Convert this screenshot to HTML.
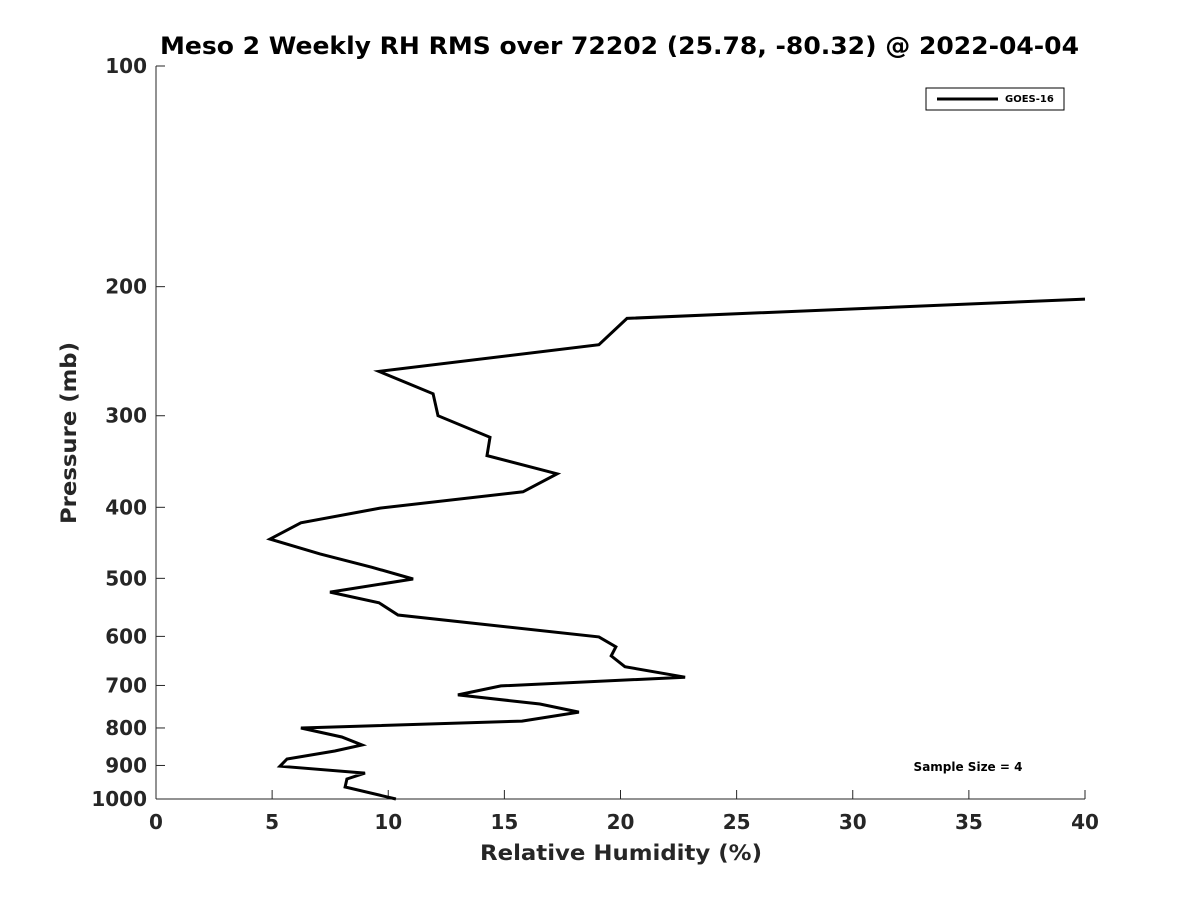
<!DOCTYPE html>
<html><head><meta charset="utf-8"><style>
html,body{margin:0;padding:0;background:#fff;}
svg text{font-family:"DejaVu Sans","Liberation Sans",sans-serif;font-weight:bold;fill:#262626;}
</style></head><body>
<svg id="chart" width="1200" height="900" viewBox="0 0 1200 900">
<rect width="1200" height="900" fill="#fff"/>
<text x="160" y="54" font-size="24" textLength="919" lengthAdjust="spacingAndGlyphs" style="fill:#000">Meso 2 Weekly RH RMS over 72202 (25.78, -80.32) @ 2022-04-04</text>
<g id="axes"></g>
<path id="series" fill="none" stroke="#000" stroke-width="3" stroke-linejoin="miter"/>
<text x="480" y="860" font-size="21" textLength="282" lengthAdjust="spacingAndGlyphs">Relative Humidity (%)</text>
<text transform="translate(76,524) rotate(-90)" font-size="21" textLength="182" lengthAdjust="spacingAndGlyphs">Pressure (mb)</text>
<g>
<rect x="926" y="88" width="138" height="22" fill="#fff" stroke="#000" stroke-width="1"/>
<line x1="937" y1="99" x2="998" y2="99" stroke="#000" stroke-width="3"/>
<text x="1005" y="102" font-size="10" style="fill:#000">GOES-16</text>
</g>
<text x="968" y="771" text-anchor="middle" font-size="12" style="fill:#000">Sample Size = 4</text>
</svg>
<script>
const rhValues=[40,20.28,19.07,9.6,11.93,12.14,14.38,14.25,17.27,15.8,9.65,6.24,4.91,7.06,9.3,11.07,7.49,9.6,10.42,19.07,19.8,19.6,20.19,22.78,14.85,13.0,16.53,18.21,15.76,6.24,8.0,8.87,7.7,5.64,5.34,9.0,8.22,8.14,10.33];
const pressureLevels=[208,221,240,261,280,300,321,340,360,381,401,420,442,463,483,501,522,540,561,601,620,638,660,682,701,721,742,761,783,800,823,844,860,882,902,922,939,963,1000];
const xTicks=[0,5,10,15,20,25,30,35,40];
const yTicks=[100,200,300,400,500,600,700,800,900,1000];
const X0=156,X1=1085,Y0=66,Y1=799;
const xs=v=>X0+(v-0)/(40-0)*(X1-X0);
const ys=p=>Y0+(Math.log10(p)-2)/(3-2)*(Y1-Y0);
const NS="http://www.w3.org/2000/svg";
const ax=document.getElementById('axes');
function mk(t,a){const e=document.createElementNS(NS,t);for(const k in a)e.setAttribute(k,a[k]);return e;}
const yl=mk('line',{x1:X0,y1:Y0,x2:X0,y2:Y1,stroke:'#262626','stroke-width':1});


ax.appendChild(yl);
const xl=mk('line',{x1:X0,y1:Y1,x2:X1,y2:Y1,stroke:'#262626','stroke-width':1});


ax.appendChild(xl);
xTicks.forEach(v=>{
 const x=xs(v);
 ax.appendChild(mk('line',{x1:x,y1:Y1,x2:x,y2:Y1-9,stroke:'#262626','stroke-width':1}));
 const t=mk('text',{x:x,y:Y1+30,'text-anchor':'middle','font-size':20});
 t.textContent=v;
 
 
 ax.appendChild(t);
});
yTicks.forEach(p=>{
 const y=ys(p);
 ax.appendChild(mk('line',{x1:X0,y1:y,x2:X0+9,y2:y,stroke:'#262626','stroke-width':1}));
 const t=mk('text',{x:X0-9,y:y+7,'text-anchor':'end','font-size':20});
 t.textContent=p;
 
 
 ax.appendChild(t);
});
document.getElementById('series').setAttribute('d',rhValues.map((v,i)=>(i?'L':'M')+xs(v).toFixed(1)+','+ys(pressureLevels[i]).toFixed(1)).join(''));
</script>
</body></html>
